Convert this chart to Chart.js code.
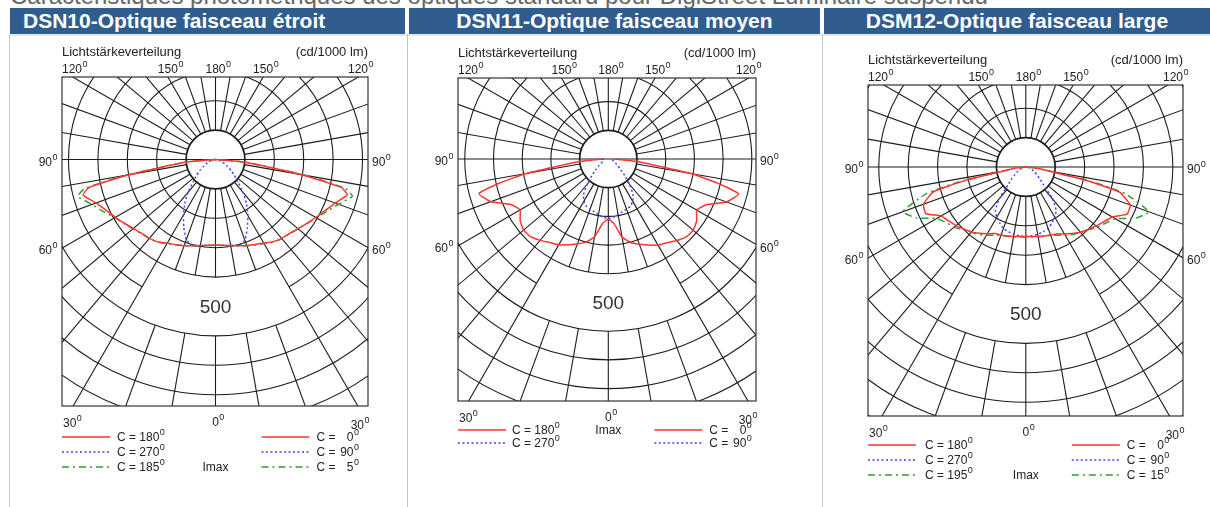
<!DOCTYPE html>
<html>
<head>
<meta charset="utf-8">
<script src="https://cdn.jsdelivr.net/npm/chart.js@4.4.1/dist/chart.umd.min.js"></script>
<style>
  body { margin: 0; background: #fff; width: 1210px; height: 507px; overflow: hidden; position: relative; font-family: "Liberation Sans", Arial, sans-serif; }
  .top { position: absolute; left: 10px; top: -16px; font-size: 24px; line-height: 24px; color: #666; white-space: nowrap; }
  .hd { position: absolute; top: 8px; height: 26px; background: #305c8e; color: #fff; font-weight: bold; font-size: 21px; line-height: 26px; white-space: nowrap; }
  .vl { position: absolute; top: 34px; bottom: 0; width: 1px; background: #c4c4c4; }
  .hl { position: absolute; top: 34px; left: 10px; right: 0; height: 2px; background: #e6e6e6; }
  canvas { position: absolute; top: 36px; }
</style>
</head>
<body>
<div class="top">Caractéristiques photométriques des optiques standard pour DigiStreet Luminaire suspendu</div>
<div class="hd" style="left:10px;width:382px;padding-left:13px">DSN10-Optique faisceau étroit</div>
<div class="hd" style="left:409px;width:411px;text-align:center">DSN11-Optique faisceau moyen</div>
<div class="hd" style="left:824px;width:386px;text-align:center">DSM12-Optique faisceau large</div>
<div class="hl"></div>
<div class="vl" style="left:9px"></div>
<div class="vl" style="left:407px"></div>
<div class="vl" style="left:822px"></div>
<canvas id="c1"></canvas>
<canvas id="c2"></canvas>
<canvas id="c3"></canvas>
<script>
// gamma angles (deg from nadir) and intensities in cd/1000 lm
const gammas = [0, 5, 10, 15, 20, 25, 30, 35, 40, 45, 50, 55, 60, 65, 70, 75, 77.5, 80, 85, 90];

// DSN10 - narrow beam
const dsn10C180 = [291, 293, 297, 304, 312, 320, 328, 342, 350, 355, 365, 378, 393, 410, 432, 466, 440, 300, 100, 0];
const dsn10C0   = [291, 293, 297, 304, 311, 319, 328, 341, 350, 356, 366, 379, 394, 411, 433, 464, 438, 298, 98, 0];
const dsn10C270 = [291, 293, 297, 302, 290, 255, 218, 182, 145, 107, 85, 65, 48, 35, 25, 17, 13, 10, 5, 0];
const dsn10C90  = [291, 293, 297, 302, 292, 256, 220, 184, 146, 108, 84, 64, 47, 34, 24, 16, 13, 10, 5, 0];
const dsn10C185 = [292, 294, 298, 305, 312, 321, 330, 343, 351, 357, 367, 380, 396, 420, 447, 485, 455, 310, 100, 0];
const dsn10C5   = [292, 294, 298, 305, 312, 321, 330, 343, 351, 357, 367, 380, 396, 418, 445, 482, 452, 308, 100, 0];

// DSN11 - medium beam
const dsn11C180 = [210, 225, 275, 300, 315, 330, 345, 355, 370, 383, 385, 375, 355, 375, 435, 466, 390, 290, 100, 22];
const dsn11C0   = [210, 226, 276, 301, 316, 331, 346, 356, 371, 384, 386, 376, 356, 377, 438, 470, 392, 292, 100, 22];
const dsn11C270 = [208, 204, 196, 190, 186, 182, 170, 150, 115, 80, 55, 40, 30, 22, 18, 16, 16, 16, 18, 22];
const dsn11C90  = [208, 204, 196, 190, 186, 182, 170, 150, 115, 80, 55, 40, 30, 22, 18, 16, 16, 16, 18, 22];

// DSM12 - wide beam
const dsm12C180 = [236, 237, 240, 243, 246, 250, 262, 275, 288, 298, 310, 320, 333, 375, 370, 325, 210, 77, 30, 0];
const dsm12C0   = [236, 237, 240, 243, 246, 251, 263, 276, 290, 300, 312, 324, 340, 380, 378, 330, 212, 80, 30, 0];
const dsm12C270 = [236, 235, 232, 228, 222, 210, 197, 180, 140, 85, 62, 45, 35, 25, 18, 12, 10, 8, 4, 0];
const dsm12C90  = [236, 235, 232, 228, 222, 210, 197, 180, 140, 85, 62, 45, 35, 25, 18, 12, 10, 8, 4, 0];
const dsm12C195 = [238, 239, 241, 244, 248, 256, 268, 280, 290, 302, 318, 330, 350, 410, 445, 350, 230, 85, 30, 0];
const dsm12C15  = [238, 239, 241, 244, 248, 256, 268, 280, 290, 302, 318, 332, 352, 412, 445, 350, 230, 85, 30, 0];

// grid rings (cd/1000 lm)
const rings = [200, 300, 400, 600, 700, 800, 900, 1000];
const scaleLabel = 500;

const RED = '#ff3434', BLUE = '#3f3fff', GREEN = '#2f9e2f';
const styles = {
  red: { color: RED, dash: [] },
  blue: { color: BLUE, dash: [2, 2.5] },
  green: { color: GREEN, dash: [7, 4, 2, 4] }
};

function curve(left, right) {
  const pts = [];
  for (let i = gammas.length - 1; i >= 0; i--) {
    const g = gammas[i] * Math.PI / 180;
    pts.push({ x: -left[i] * Math.sin(g), y: -left[i] * Math.cos(g) });
  }
  for (let i = 1; i < gammas.length; i++) {
    const g = gammas[i] * Math.PI / 180;
    pts.push({ x: right[i] * Math.sin(g), y: -right[i] * Math.cos(g) });
  }
  return pts;
}

const FONT = '"Liberation Sans", Arial, sans-serif';
const INK = '#222';

function deg(ctx, num, x, y, align) {
  ctx.font = '12px ' + FONT;
  const w = ctx.measureText(num).width;
  let x0 = x;
  if (align === 'center') x0 = x - w / 2;
  if (align === 'end') x0 = x - w;
  if (align === 'right') x0 = x - w - 6;
  ctx.textAlign = 'left';
  ctx.fillStyle = INK;
  ctx.fillText(num, x0, y);
  ctx.font = '9px ' + FONT;
  ctx.fillText('0', x0 + w + 0.5, y - 6);
}

function makePlugin(p) {
  return {
    id: 'polar_' + p.id,
    beforeDatasetsDraw(chart) {
      const { ctx, chartArea: a, scales: { x, y } } = chart;
      const cx = x.getPixelForValue(0), cy = y.getPixelForValue(0);
      const kx = (x.getPixelForValue(100) - cx) / 100, ky = (cy - y.getPixelForValue(100)) / 100;
      const pt = (angDeg, r) => {
        const t = angDeg * Math.PI / 180;
        return [cx + Math.sin(t) * r * kx, cy + Math.cos(t) * r * ky];
      };
      ctx.save();
      ctx.beginPath();
      ctx.rect(a.left, a.top, a.width, a.height);
      ctx.clip();
      ctx.strokeStyle = '#1c1c1c';
      ctx.lineWidth = 1.1;
      rings.forEach(r => {
        ctx.beginPath();
        ctx.ellipse(cx, cy, r * kx, r * ky, 0, 0, Math.PI * 2);
        ctx.stroke();
      });
      ctx.beginPath();
      ctx.ellipse(cx, cy, scaleLabel * kx, scaleLabel * ky, 0, Math.PI / 2 + Math.PI / 6, Math.PI * 2 + Math.PI / 2 - Math.PI / 6);
      ctx.stroke();
      for (let ang = 0; ang < 360; ang += 10) {
        if (ang === 90 || ang === 270) continue;
        const inGap = ang <= 20 || ang >= 340;
        const segs = inGap ? [[100, 400], [600, 2000]] : [[100, 2000]];
        segs.forEach(([r0, r1]) => {
          const [x0, y0] = pt(ang, r0), [x1, y1] = pt(ang, r1);
          ctx.beginPath();
          ctx.moveTo(x0, y0);
          ctx.lineTo(x1, y1);
          ctx.stroke();
        });
      }
      ctx.beginPath();
      ctx.moveTo(a.left, cy);
      ctx.lineTo(a.right, cy);
      ctx.stroke();
      ctx.lineWidth = 1.7;
      ctx.beginPath();
      ctx.ellipse(cx, cy, 100 * kx, 100 * ky, 0, 0, Math.PI * 2);
      ctx.stroke();
      ctx.restore();
      ctx.save();
      ctx.strokeStyle = '#333';
      ctx.lineWidth = 1.2;
      ctx.strokeRect(a.left, a.top, a.width, a.height);
      ctx.fillStyle = '#333';
      ctx.font = '19px ' + FONT;
      ctx.textAlign = 'center';
      ctx.textBaseline = 'middle';
      ctx.fillText(String(scaleLabel), cx, cy + scaleLabel * ky + 1);
      ctx.restore();
    },
    afterDraw(chart) {
      const { ctx, chartArea: a, scales: { x, y } } = chart;
      const cx = x.getPixelForValue(0), cy = y.getPixelForValue(0);
      const t30 = Math.tan(Math.PI / 6);
      ctx.save();
      ctx.textBaseline = 'alphabetic';
      ctx.fillStyle = INK;
      ctx.font = '13px ' + FONT;
      ctx.textAlign = 'left';
      ctx.fillText('Lichtstärkeverteilung', a.left, a.top - 21);
      ctx.textAlign = 'right';
      ctx.fillText('(cd/1000 lm)', a.right, a.top - 21);
      const ty = a.top - 4;
      deg(ctx, '120', a.left, ty, 'start');
      deg(ctx, '150', cx - (cy - a.top) * t30, ty, 'center');
      deg(ctx, '180', cx, ty, 'center');
      deg(ctx, '150', cx + (cy - a.top) * t30, ty, 'center');
      deg(ctx, '120', a.right, ty, 'end');
      const y60 = cy + (cx - a.left) * t30;
      deg(ctx, '90', a.left - 4, cy + 6, 'right');
      deg(ctx, '90', a.right + 4, cy + 6, 'start');
      deg(ctx, '60', a.left - 4, y60 + 6, 'right');
      deg(ctx, '60', a.right + 4, y60 + 6, 'start');
      deg(ctx, '30', a.left + 1, a.bottom + 21, 'start');
      deg(ctx, '0', cx, a.bottom + 20, 'center');
      deg(ctx, '30', a.right - 4, a.bottom + 23, 'end');
      p.legend.forEach((row, i) => {
        const ry = a.bottom + p.rows[i];
        [[row[0], a.left, p.leftText], [row[1], cx + 46, null]].forEach(([item, lx, textOff]) => {
          const st = styles[item[0]];
          ctx.save();
          ctx.strokeStyle = st.color;
          ctx.lineWidth = 1.6;
          ctx.setLineDash(st.dash);
          ctx.beginPath();
          ctx.moveTo(lx, ry);
          ctx.lineTo(lx + 48, ry);
          ctx.stroke();
          ctx.restore();
          ctx.fillStyle = INK;
          ctx.font = '12px ' + FONT;
          ctx.textAlign = 'left';
          if (textOff !== null) {
            ctx.fillText('C = ', lx + textOff, ry + 4);
            const w = ctx.measureText('C = ').width;
            deg(ctx, item[1], lx + textOff + w, ry + 4, 'start');
          } else {
            ctx.fillText('C =', cx + 101, ry + 4);
            deg(ctx, item[1], cx + 138, ry + 4, 'end');
          }
        });
      });
      ctx.font = '12px ' + FONT;
      ctx.textAlign = 'center';
      ctx.fillStyle = INK;
      ctx.fillText('Imax', cx, a.bottom + p.rows[p.imaxRow] + 4);
      ctx.restore();
    }
  };
}

const panels = [
  {
    id: 'c1', col: [10, 405], box: { l: 62, t: 77, r: 368, b: 406 }, c: { x: 215.5, y: 159.5 }, s: 0.294,
    rows: [31, 46, 61], imaxRow: 2, leftText: 55,
    legend: [[['red', '180'], ['red', '0']], [['blue', '270'], ['blue', '90']], [['green', '185'], ['green', '5']]],
    sets: [['red', dsn10C180, dsn10C0], ['green', dsn10C185, dsn10C5], ['blue', dsn10C270, dsn10C90]]
  },
  {
    id: 'c2', col: [409, 820], box: { l: 458, t: 78, r: 756, b: 401 }, c: { x: 608.3, y: 159 }, s: 0.287,
    rows: [29, 42], imaxRow: 0, leftText: 54,
    legend: [[['red', '180'], ['red', '0']], [['blue', '270'], ['blue', '90']]],
    sets: [['red', dsn11C180, dsn11C0], ['blue', dsn11C270, dsn11C90]]
  },
  {
    id: 'c3', col: [824, 1210], box: { l: 868, t: 85, r: 1183, b: 416 }, c: { x: 1025.8, y: 167 }, s: 0.294,
    rows: [29, 44, 59], imaxRow: 2, leftText: 57,
    legend: [[['red', '180'], ['red', '0']], [['blue', '270'], ['blue', '90']], [['green', '195'], ['green', '15']]],
    sets: [['red', dsm12C180, dsm12C0], ['green', dsm12C195, dsm12C15], ['blue', dsm12C270, dsm12C90]]
  }
];

const TOP = 36, BOTTOM = 507;

panels.forEach(p => {
  const cv = document.getElementById(p.id);
  const w = p.col[1] - p.col[0], h = BOTTOM - TOP;
  cv.width = w; cv.height = h;
  cv.style.left = p.col[0] + 'px';
  cv.style.width = w + 'px'; cv.style.height = h + 'px';
  const b = p.box;
  new Chart(cv, {
    type: 'scatter',
    data: {
      datasets: p.sets.map(([st, left, right]) => ({
        data: curve(left, right),
        showLine: true,
        borderColor: styles[st].color,
        borderDash: styles[st].dash,
        borderWidth: 1.5,
        pointRadius: 0,
        tension: 0.15,
        fill: false
      }))
    },
    options: {
      responsive: false,
      animation: false,
      devicePixelRatio: 1,
      layout: { padding: { left: b.l - p.col[0], right: p.col[1] - b.r, top: b.t - TOP, bottom: BOTTOM - b.b } },
      scales: {
        x: { type: 'linear', display: false, min: (b.l - p.c.x) / p.s, max: (b.r - p.c.x) / p.s },
        y: { type: 'linear', display: false, min: -(b.b - p.c.y) / p.s, max: (p.c.y - b.t) / p.s }
      },
      plugins: { legend: { display: false }, tooltip: { enabled: false }, title: { display: false } }
    },
    plugins: [makePlugin(p)]
  });
});
</script>
</body>
</html>
